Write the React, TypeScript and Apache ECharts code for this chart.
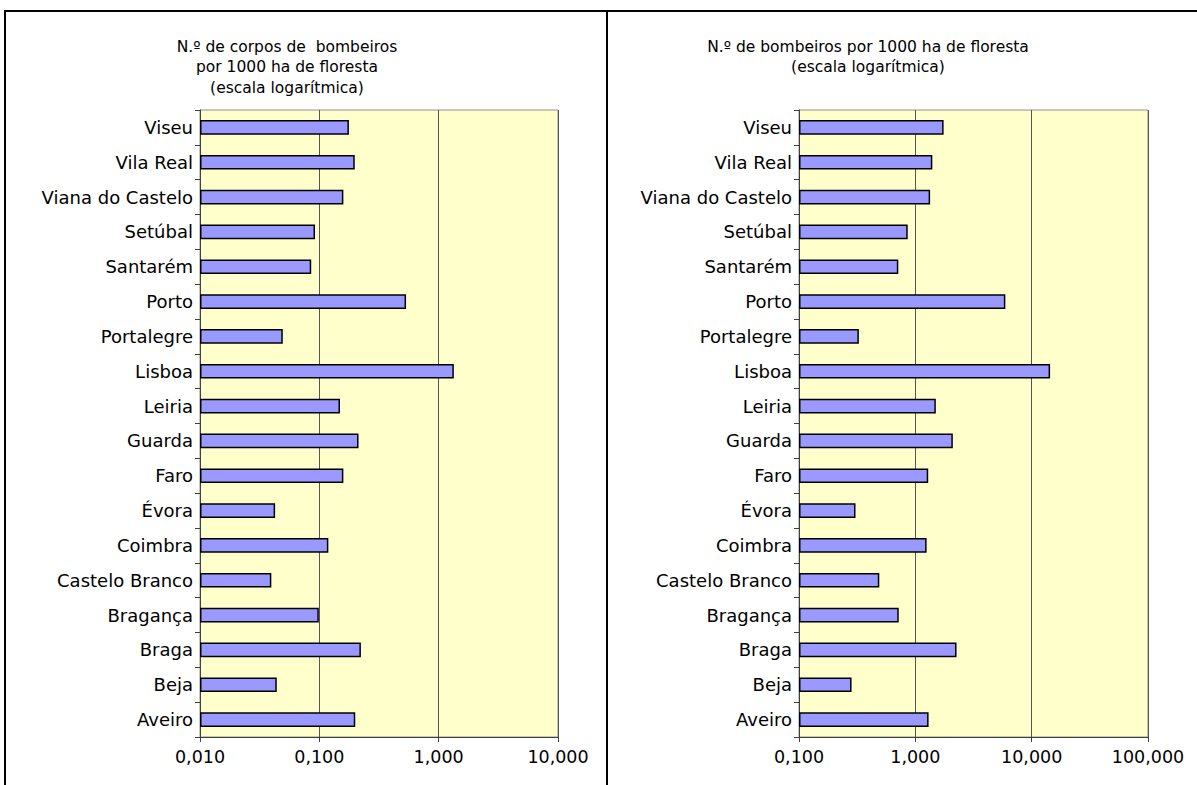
import React, { useEffect, useRef } from "react";
import * as echarts from "echarts";

const categories = [
  "Aveiro", "Beja", "Braga", "Bragança", "Castelo Branco", "Coimbra", "Évora", "Faro", "Guarda",
  "Leiria", "Lisboa", "Portalegre", "Porto", "Santarém", "Setúbal", "Viana do Castelo", "Vila Real", "Viseu",
];

const corposPor1000ha = [
  0.2, 0.044, 0.223, 0.099, 0.0396, 0.119, 0.0426, 0.159, 0.213,
  0.149, 1.34, 0.0494, 0.533, 0.0855, 0.092, 0.159, 0.198, 0.177,
];

const bombeirosPor1000ha = [
  1.3, 0.283, 2.26, 0.72, 0.49, 1.25, 0.306, 1.29, 2.1,
  1.5, 14.4, 0.327, 5.94, 0.714, 0.86, 1.34, 1.4, 1.75,
];

const leftTitle = "N.º de corpos de  bombeiros\npor 1000 ha de floresta\n(escala logarítmica)";
const rightTitle = "N.º de bombeiros por 1000 ha de floresta\n(escala logarítmica)";

const FONT = "DejaVu Sans";

function fmt(v: number) {
  return v.toFixed(3).replace(".", ",");
}

export default function App() {
  const ref = useRef<HTMLDivElement>(null);
  useEffect(() => {
    document.body.style.margin = "0";
    const chart = echarts.init(ref.current!, null, { renderer: "svg" });
    const xAxisCommon = (min: number, max: number, gridIndex: number) => ({
      type: "log",
      logBase: 10,
      min,
      max,
      startValue: min,
      gridIndex,
      axisLine: { show: true, lineStyle: { color: "#404040", width: 1 } },
      axisTick: { show: true, length: 5, lineStyle: { color: "#404040" } },
      axisLabel: {
        formatter: (v: number) => fmt(v),
        color: "#000",
        fontFamily: FONT,
        fontSize: 17.5,
        margin: 11,
      },
      splitLine: { show: true, lineStyle: { color: "#555", width: 1 } },
      minorTick: { show: false },
    });
    const yAxisCommon = (gridIndex: number) => ({
      type: "category",
      data: categories,
      gridIndex,
      axisLine: { show: true, lineStyle: { color: "#404040", width: 1 } },
      axisTick: { show: true, length: 5, alignWithLabel: false, lineStyle: { color: "#404040" } },
      axisLabel: { color: "#000", fontFamily: FONT, fontSize: 18, margin: 7 },
      splitLine: { show: false },
    });
    const barStyle = { color: "#9999FF", borderColor: "#000", borderWidth: 1.5 };
    chart.setOption({
      animation: false,
      backgroundColor: "#fff",
      grid: [
        { left: 200, right: 1197 - 558, top: 110, bottom: 785 - 737, show: true, backgroundColor: "#FFFFCC", borderColor: "#909090", borderWidth: 1 },
        { left: 799, right: 1197 - 1148, top: 110, bottom: 785 - 737, show: true, backgroundColor: "#FFFFCC", borderColor: "#909090", borderWidth: 1 },
      ],
      xAxis: [xAxisCommon(0.01, 10, 0), xAxisCommon(0.1, 100, 1)],
      yAxis: [yAxisCommon(0), yAxisCommon(1)],
      series: [
        { type: "bar", xAxisIndex: 0, yAxisIndex: 0, data: corposPor1000ha, barWidth: "42%", itemStyle: barStyle },
        { type: "bar", xAxisIndex: 1, yAxisIndex: 1, data: bombeirosPor1000ha, barWidth: "42%", itemStyle: barStyle },
      ],
      graphic: [
        { type: "rect", shape: { x: 5, y: 11, width: 1250, height: 800 }, style: { fill: "none", stroke: "#000", lineWidth: 2 }, silent: true },
        { type: "line", shape: { x1: 607, y1: 11, x2: 607, y2: 785 }, style: { stroke: "#000", lineWidth: 2 }, silent: true },
        {
          type: "text", x: 287, y: 67,
          style: { text: leftTitle, textAlign: "center", textVerticalAlign: "middle", fontFamily: FONT, fontSize: 15.5, lineHeight: 20.5, fill: "#000" },
        },
        {
          type: "text", x: 868, y: 57,
          style: { text: rightTitle, textAlign: "center", textVerticalAlign: "middle", fontFamily: FONT, fontSize: 15.5, lineHeight: 20.5, fill: "#000" },
        },
      ],
    });
    return () => chart.dispose();
  }, []);
  return <div ref={ref} style={{ position: "absolute", left: 0, top: 0, width: 1197, height: 785 }} />;
}
